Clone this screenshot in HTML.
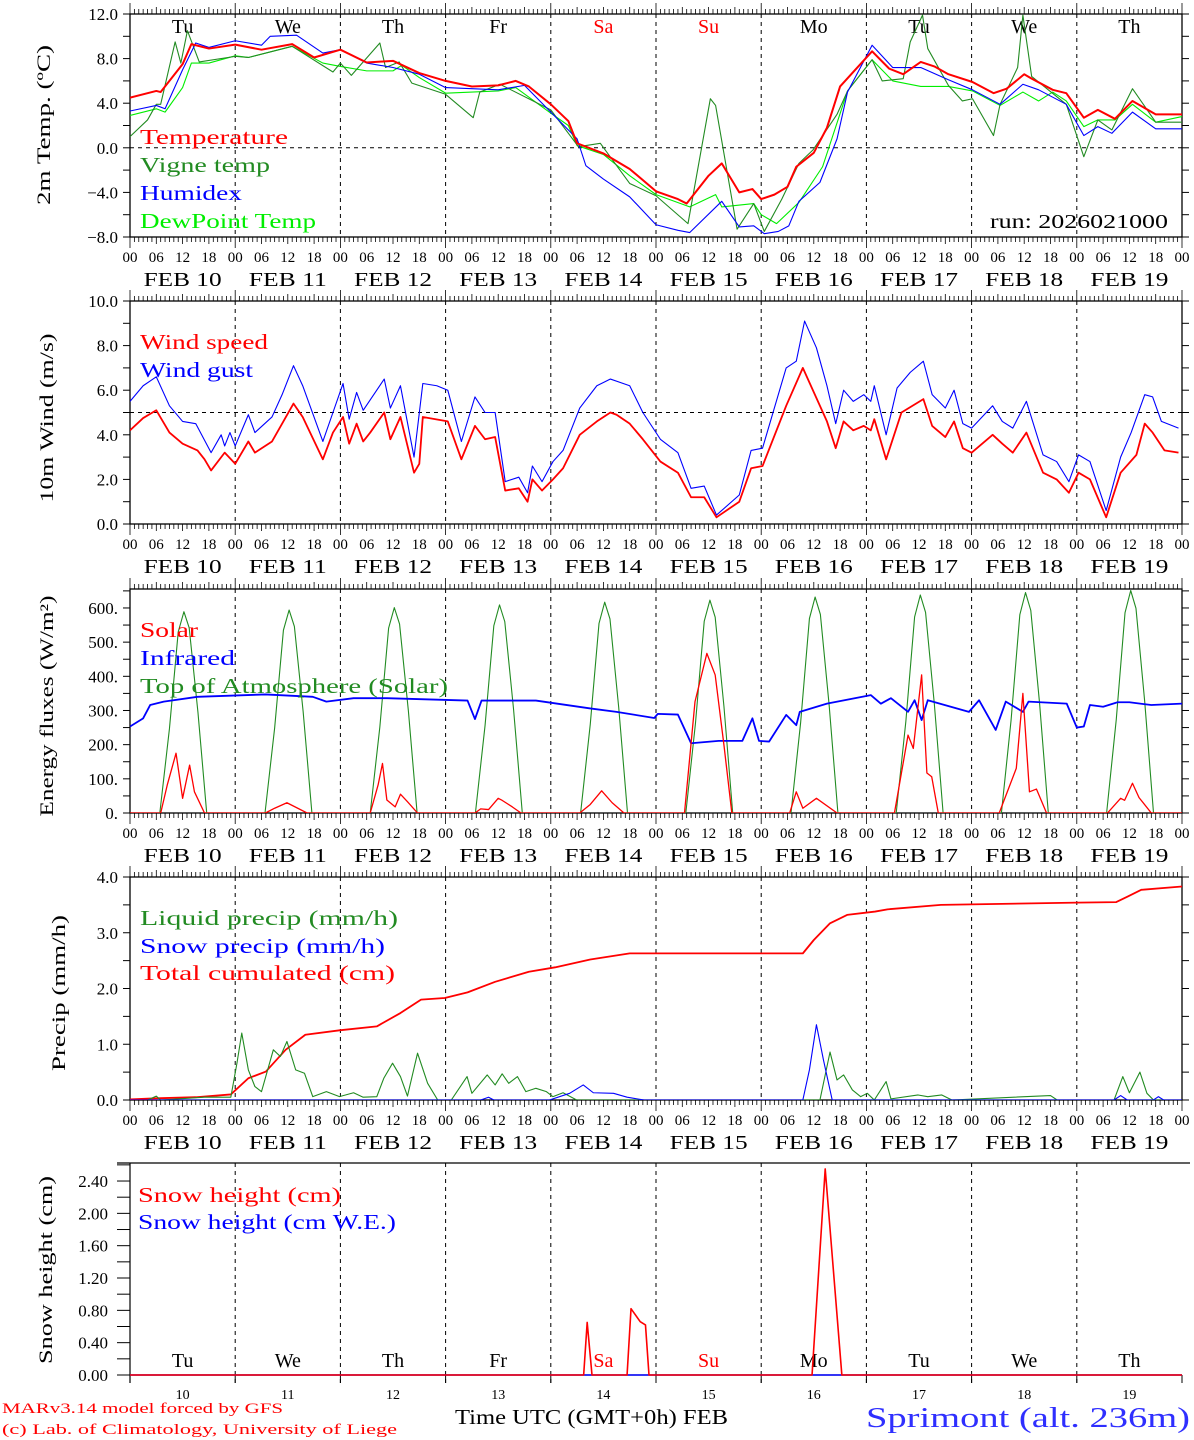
<!DOCTYPE html>
<html><head><meta charset="utf-8"><title>MAR forecast Sprimont</title>
<style>
html,body{margin:0;padding:0;background:#fff;}
svg{display:block;}
text{font-family:"Liberation Serif","DejaVu Serif",serif;}
</style></head>
<body>
<svg id="chart" xmlns="http://www.w3.org/2000/svg" width="1194" height="1440" viewBox="0 0 1194 1440">
<rect x="0" y="0" width="1194" height="1440" fill="#fff"/>
<defs>
<clipPath id="c0"><rect x="130" y="14" width="1052" height="223"/></clipPath>
<clipPath id="c1"><rect x="130" y="301" width="1052" height="223"/></clipPath>
<clipPath id="c2"><rect x="130" y="589" width="1052" height="224"/></clipPath>
<clipPath id="c3"><rect x="130" y="877" width="1052" height="223"/></clipPath>
<clipPath id="c4"><rect x="130" y="1160" width="1052" height="216"/></clipPath>
</defs>
<text x="455" y="1424" font-size="21" textLength="273" lengthAdjust="spacingAndGlyphs">Time UTC (GMT+0h) FEB</text>
<text x="866" y="1427" font-size="28" fill="#2f2fff" textLength="324" lengthAdjust="spacingAndGlyphs">Sprimont (alt. 236m)</text>
<text x="2" y="1413" font-size="15" fill="#ff0000" textLength="281" lengthAdjust="spacingAndGlyphs">MARv3.14 model forced by GFS</text>
<text x="2" y="1434" font-size="15" fill="#ff0000" textLength="395" lengthAdjust="spacingAndGlyphs">(c) Lab. of Climatology, University of Liege</text>
<text x="990" y="228" font-size="20" textLength="178" lengthAdjust="spacingAndGlyphs">run: 2026021000</text>
</svg>
<script>
// ---------- DATA ----------
const dayNames = ["Tu","We","Th","Fr","Sa","Su","Mo","Tu","We","Th"];
const dayNums = ["10","11","12","13","14","15","16","17","18","19"];
const hourLabels = ["00","06","12","18"];

// Panel 1: temperatures (°C)
const tempH = [0,6,7,12,14,18,24,30,37,42,48,54,60,66,72,78,84,88,91,96,100,102,108,114,120,125,127,132,135,139,142,144,147,150,152,156,159,162,169.3,173.2,176.4,180.4,183.5,186.7,192.2,197,200,204,205.7,210.5,213.6,217.6,220.8,224.7,228.7,234,240];
const tempV = [4.5,5.1,5.0,7.5,9.3,8.9,9.25,8.8,9.3,8.1,8.8,7.65,7.8,6.7,6.0,5.5,5.6,6.0,5.5,3.9,2.4,0.4,-0.5,-1.9,-3.9,-4.6,-5.0,-2.5,-1.4,-4.0,-3.7,-4.6,-4.2,-3.5,-1.7,-0.45,1.8,5.5,8.65,7.1,6.6,7.7,7.3,6.6,5.9,4.9,5.3,6.6,6.2,5.2,4.9,2.7,3.4,2.6,4.2,3.0,3.0];
const vigH = [0,4,6,7,10.3,11.6,13.1,15.8,24,27,37,46.3,48,50.5,57,58.3,61.4,64.3,72,78.3,79.8,84.4,96,102.3,107.3,114,120,127.3,132.4,133.6,138.5,142.3,144.7,148.7,152.6,155.8,161.3,163.7,169.3,171.6,176.4,178,180.8,182,186.7,189.9,192.2,197,198.5,202.5,203.7,205.7,213.6,217.6,220.8,224,228.7,234,240];
const vigV = [1.0,2.5,3.9,3.9,9.5,7.6,10.5,7.7,8.2,8.1,9.1,6.8,7.6,6.5,9.4,7.2,7.7,5.8,4.8,2.7,5.0,5.7,3.4,0.1,0.4,-3.2,-4.3,-6.8,4.4,3.8,-7.3,-5.0,-7.5,-4.6,-1.4,-0.2,3.0,5.1,7.9,6.0,6.2,9.5,11.9,8.9,5.6,4.2,4.4,1.1,3.9,7.2,11.9,6.4,3.9,-0.8,2.5,1.6,5.3,2.3,2.3];
const humH = [0,6,8,12,15,18,24,30,32,38,44,48,54,60,66,72,78,84,90,96,102,104,108,114,120,125,127.7,135,139,142.3,144.7,147.9,150.3,152.6,157.4,161.3,163.7,169.3,174,180.4,186.7,192.2,198.5,203.7,207.3,213.6,217.6,220.8,224,228.7,234,240];
const humV = [3.3,3.8,3.5,7.0,9.4,9.0,9.6,9.2,10.0,10.1,8.5,8.8,7.6,7.2,6.6,5.4,5.3,5.2,5.6,3.2,0.8,-1.6,-2.8,-4.4,-6.9,-7.4,-7.6,-4.8,-7.1,-7.0,-7.7,-7.5,-7.0,-4.8,-3.1,0.8,5.0,9.2,7.2,7.2,6.1,5.2,3.9,5.7,5.2,3.9,1.1,1.9,1.3,3.2,1.7,1.7];
const dewH = [0,6,8,12,14,18,24,27,37,44,48,54,60,62,66,72,84,88,96,100,102,108,114,120,127.7,133.6,135,142.3,144,147.5,152.6,158,163.7,169.3,174,180.4,186.7,192.2,198.5,203.7,207.3,210.5,213.6,217.6,220.8,224.7,228.7,234,240];
const dewV = [2.9,3.5,3.2,5.4,7.6,7.6,8.25,8.1,9.1,7.6,7.3,6.9,6.9,7.4,6.3,4.9,5.1,5.4,3.1,2.0,0.2,-0.6,-2.5,-4.2,-5.3,-4.2,-5.3,-5.0,-6.0,-6.8,-4.9,-1.7,5.1,7.9,6.0,5.5,5.5,5.1,3.8,5.0,4.2,5.0,4.2,1.9,2.5,2.5,3.9,2.3,2.8];

// Panel 2: wind (m/s)
const windH = [0,3,6,9,12,15.4,17,18.5,21.6,24,27,28.5,32.4,34.7,37.3,39.4,44,46.3,48.6,50,51.7,53.2,54.8,58,59.4,61.7,64.8,66,66.8,72.5,75.6,78.7,81,83.3,85.6,88.7,90.7,91.8,94,96.5,98.8,102.6,106.5,109.6,111,114,117,121,125,128,131,133.8,139,141.7,144.3,149.7,153.5,159,161,162.8,165,167.4,169,169.8,172.5,176,181,183,186,188,190,192,196.8,199,201.4,204.5,208.3,211.4,214.2,216.4,219,222.7,226,229.6,231.5,233.3,236,239.2];
const windV = [4.2,4.75,5.1,4.1,3.6,3.3,2.9,2.4,3.2,2.7,3.7,3.2,3.7,4.5,5.4,4.8,2.9,4.1,4.8,3.6,4.5,3.7,4.1,5.0,3.8,4.8,2.3,2.7,4.8,4.6,2.9,4.4,3.8,3.9,1.5,1.6,1.0,2.0,1.5,2.0,2.5,4.0,4.6,5.0,4.9,4.5,3.8,2.8,2.3,1.2,1.2,0.3,1.0,2.5,2.6,5.3,7.0,4.6,3.4,4.6,4.2,4.4,4.2,4.7,2.9,5.0,5.6,4.4,3.9,4.6,3.4,3.2,4.0,3.6,3.2,4.1,2.3,2.0,1.4,2.3,2.0,0.3,2.3,3.1,4.5,4.1,3.3,3.2];
const gustH = [0,3,6,9,12,15,18.5,20.8,21.6,22.8,24,27,28.5,32.4,34.7,37.3,39.4,44,46.3,48.6,50,51.7,53.2,58,59.4,61.7,64.8,66.8,70,72.5,75.6,78.7,81,83.3,85.6,88.7,90.7,91.8,94,96.5,98.8,102.6,106.5,109.6,114,117,121,125,128,131,133.8,139,141.7,144.3,149.7,152,153.9,156.6,159,161,162.8,165,167.4,169,169.8,172.5,175,178,181,183,186,188,190,192,196.8,199,201.4,204.5,208.3,211.4,214.2,216.4,219,222.7,226,228.4,231.5,233.3,235.3,239.2];
const gustV = [5.5,6.2,6.6,5.3,4.6,4.5,3.2,4.0,3.5,4.1,3.5,4.9,4.1,4.8,5.8,7.1,6.2,3.7,5.0,6.3,4.7,5.9,5.1,6.5,5.2,6.2,3.0,6.3,6.2,6.0,3.7,5.7,5.0,5.0,1.9,2.1,1.4,2.6,1.9,2.8,3.3,5.2,6.2,6.5,6.2,5.0,3.8,3.2,1.6,1.7,0.4,1.3,3.3,3.4,7.0,7.3,9.1,7.9,6.2,4.5,6.0,5.5,5.8,5.5,6.2,4.0,6.1,6.8,7.3,5.8,5.2,6.0,4.5,4.3,5.3,4.6,4.3,5.5,3.1,2.8,1.9,3.1,2.8,0.6,3.0,4.1,5.8,5.7,4.6,4.3];

// Panel 3: energy fluxes (W/m2)
const solarH = [0,7,8.5,10.5,12,13.6,14.7,17,30.9,33,35.8,40.4,54.8,56.6,57.6,58.6,60.5,61.7,63.3,65.6,78.7,80,81.8,84,84.9,87.2,89.2,102.6,105,107.6,110,112.7,126.5,128.9,131.6,133.5,135.5,137.3,150.5,152,153.5,156.6,161.3,174.4,177.5,178.7,180.6,181.8,182.9,184.4,198.3,202.2,203.7,205.2,206.8,209.1,223,226,226.9,228.7,230.2,233,240];
const solarV = [0,0,82,175,43,140,62,0,0,14,30,0,0,82,145,38,18,55,33,0,0,12,10,43,37,18,0,0,25,65,30,0,0,326,467,404,199,0,0,62,14,43,0,0,228,189,404,117,106,0,0,131,350,62,70,0,0,43,37,87,45,0,0];
const irH = [0,3,4.6,7.7,15.4,30.9,41.7,44.8,51,58.6,77,78.7,80.2,92.6,105,111,119.6,120.4,125,128,134.3,139.7,142,143.5,145.8,149.7,152,152.8,159,169,171.3,173.6,177.5,179,180.6,182,191.4,193.7,197.5,199.8,203.7,205,213.7,216,217.6,219,222,225.3,228,233,240];
const irV = [253,277,316,326,340,347,340,326,336,336,329,275,329,329,306,296,278,290,288,204,211,211,277,211,209,287,257,296,320,345,320,336,296,330,272,330,296,330,243,326,296,326,320,250,253,316,311,324,324,316,320];
const toaH = [0,6.8,9,11,12.3,13.5,15.5,17.5,30.8,33,35,36.3,37.5,39.5,41.5,54.8,57,59,60.3,61.5,63.5,65.5,78.8,81,83,84.3,85.5,87.5,89.5,102.8,105,107,108.3,109.5,111.5,113.5,126.8,129,131,132.3,133.5,135.5,137.5,150.8,153,155,156.3,157.5,159.5,161.5,174.8,177,179,180.3,181.5,183.5,185.5,198.8,201,203,204.3,205.5,207.5,209.5,222.8,225,227,228.3,229.5,231.5,233.5,240];
const toaV = [0,0,247,530,589,542,295,0,0,249,535,594,546,297,0,0,252,541,601,553,300,0,0,256,548,609,560,304,0,0,259,555,617,568,308,0,0,262,561,623,573,312,0,0,265,569,632,581,316,0,0,268,574,638,587,319,0,0,271,580,645,593,322,0,0,273,586,651,599,325,0,0];

// Panel 4: precipitation
const cumH = [0,6,15,23,27,31,35.5,40,47.8,56.3,61.7,66.4,71.8,77,83.3,91,97,105,114,153.5,156,159.7,163.6,170,172.8,185,216,225,227.6,230.7,240];
const cumV = [0.01,0.03,0.05,0.1,0.39,0.51,0.9,1.17,1.25,1.32,1.56,1.8,1.83,1.93,2.12,2.3,2.38,2.52,2.63,2.63,2.87,3.17,3.32,3.38,3.42,3.5,3.54,3.55,3.65,3.77,3.83];
const liqH = [0,4,6,7,17,23,24.4,25.5,27,28.5,30,32.7,34.3,35.8,37.8,39.8,41.7,44.8,47.8,51,53.2,56.3,57.9,59.9,61.7,63.3,65.6,67.9,70.2,73.3,76.9,78,81.5,83.3,84.9,86.4,88.4,90.3,92.6,95,96.5,98.8,101.9,157.4,159.7,161.3,162.8,164.8,166.7,168.2,169.8,172.5,173.6,179.8,182,185.2,187.5,210,211.5,224.5,226.5,228,230.4,232,233.5,240];
const liqV = [0,0,0.07,0,0.05,0.05,0.66,1.2,0.54,0.24,0.15,0.9,0.78,1.05,0.54,0.48,0.06,0.15,0.06,0.13,0.05,0.06,0.39,0.66,0.42,0.07,0.84,0.3,0,0,0.42,0.12,0.45,0.27,0.47,0.3,0.42,0.15,0.21,0.15,0.06,0.13,0,0,0.86,0.36,0.45,0.18,0.06,0.12,0,0.33,0.02,0.09,0.06,0.09,0,0.08,0,0,0.42,0.13,0.5,0.12,0,0];
const snH = [0,80,81.8,83,95.7,100.3,103.4,105.7,110.3,113.4,117.3,153.5,155,156.6,158.2,160.2,224.5,226,227.5,233.5,234.6,235.8,240];
const snV = [0,0,0.05,0,0,0.12,0.27,0.13,0.12,0.05,0,0,0.54,1.35,0.72,0,0,0.08,0,0,0.06,0,0];

// Panel 5: snow height
const shH = [0,103.5,104.3,105.4,113.4,114.3,116.4,117.6,118.4,155.6,158.6,162.4,240];
const shV = [0,0,0.65,0,0,0.82,0.66,0.62,0,0,2.55,0,0];
const sweH = [0,240];
const sweV = [0,0];

// ---------- DRAWING ----------
const NS = 'http://www.w3.org/2000/svg';
const svg = document.getElementById('chart');
const X0 = 130, X1 = 1182, DAYW = (X1 - X0) / 10;
const panels = [
  {top:14, bot:237, ymin:-8, ymax:12, minor:2, major:4, fmt:v=>(v<0?'\u22120':'')+Math.abs(v).toFixed(1).replace(/^0(?=\.)/, v<0?'':'0'), name:'temperature'},
  {top:301, bot:524, ymin:0, ymax:10, minor:1, major:2, fmt:v=>v.toFixed(1), name:'wind'},
  {top:589, bot:813, ymin:0, ymax:655.5, minor:50, major:100, fmt:v=>v===0?'0.':v+'.', name:'energy'},
  {top:877, bot:1100, ymin:0, ymax:4, minor:0.5, major:1, fmt:v=>v.toFixed(1), name:'precip'},
  {top:1163, bot:1375, ymin:0, ymax:2.623, minor:0.2, major:0.4, fmt:v=>v.toFixed(2), name:'snow'}
];
function xh(h){ return X0 + h * DAYW / 24; }
function sy(p, v){ return p.bot - (v - p.ymin) / (p.ymax - p.ymin) * (p.bot - p.top); }

function add(parent, tag, attrs, name, text){
  const el = document.createElementNS(NS, tag);
  for (const k in attrs) el.setAttribute(k, attrs[k]);
  
  
  if (text !== undefined) el.textContent = text;
  parent.appendChild(el);
  return el;
}
function fmtY(i, v){
  if (i === 0) { const s = Math.abs(v).toFixed(1); return v < 0 ? '\u2212' + s : s; }
  return panels[i].fmt(v);
}

panels.forEach((p, i) => {
  const g = add(svg, 'g', {}, p.name + '-panel');
  // day dashed lines
  for (let d = 1; d < 10; d++) {
    add(g, 'line', {x1:xh(d*24), x2:xh(d*24), y1:p.top, y2:p.bot + (i===4?8:0), stroke:'#000', 'stroke-width':1, 'stroke-dasharray':'4,4'}, 'day-gridline');
  }
  if (i === 0) add(g, 'line', {x1:X0, x2:X1, y1:sy(p,0), y2:sy(p,0), stroke:'#000', 'stroke-width':1, 'stroke-dasharray':'4,4'}, 'zero-line');
  if (i === 1) add(g, 'line', {x1:X0, x2:X1, y1:sy(p,5), y2:sy(p,5), stroke:'#000', 'stroke-width':1, 'stroke-dasharray':'4,4'}, 'five-ms-line');
  if (i < 4) {
    add(g, 'rect', {x:X0, y:p.top, width:X1-X0, height:p.bot-p.top, fill:'none', stroke:'#000', 'stroke-width':1.3}, 'plot-frame');
    for (let h = 0; h <= 240; h++) {
      const len = h % 24 === 0 ? 11 : (h % 6 === 0 ? 7 : 5);
      add(g, 'line', {x1:xh(h), x2:xh(h), y1:p.top, y2:p.top-len, stroke:'#000', 'stroke-width':0.8}, 'top-hour-tick');
      add(g, 'line', {x1:xh(h), x2:xh(h), y1:p.bot, y2:p.bot+len, stroke:'#000', 'stroke-width':0.8}, 'bottom-hour-tick');
    }
    for (let d = 0; d <= 10; d++) {
      for (let k = 0; k < 4; k++) {
        if (d === 10 && k > 0) break;
        add(g, 'text', {x:xh(d*24 + k*6), y:p.bot+25, 'font-size':15, 'text-anchor':'middle'}, 'hour-label', hourLabels[k]);
      }
      if (d < 10) add(g, 'text', {x:xh(d*24+12), y:p.bot+49, 'font-size':20, 'text-anchor':'middle', textLength:78, lengthAdjust:'spacingAndGlyphs'}, 'date-label', 'FEB ' + dayNums[d]);
    }
  } else {
    add(g, 'line', {x1:117, x2:1190, y1:p.top, y2:p.top, stroke:'#000', 'stroke-width':1.2}, 'top-border');
    add(g, 'line', {x1:X0, x2:X0, y1:p.top, y2:p.bot+8, stroke:'#000', 'stroke-width':1.2}, 'y-axis-line');
    add(g, 'line', {x1:X0, x2:X1, y1:p.bot, y2:p.bot, stroke:'#555', 'stroke-width':1.2}, 'x-axis-line');
    for (let d = 0; d <= 10; d++) add(g, 'line', {x1:xh(d*24), x2:xh(d*24), y1:p.bot, y2:p.bot+8, stroke:'#000', 'stroke-width':1}, 'day-tick');
    for (let d = 0; d < 10; d++) {
      add(g, 'text', {x:xh(d*24+12), y:p.bot+24, 'font-size':14, 'text-anchor':'middle'}, 'day-number-label', dayNums[d]);
    }
  }
  // y ticks
  const nMinor = Math.round((Math.min(p.ymax, i===2?650:p.ymax) - p.ymin) / p.minor + 1e-6);
  for (let k = 0; k <= nMinor; k++) {
    const v = p.ymin + k * p.minor;
    const y = sy(p, v);
    if (i < 4) {
      add(g, 'line', {x1:X0, x2:X0-7, y1:y, y2:y, stroke:'#000', 'stroke-width':1}, 'y-tick');
      add(g, 'line', {x1:X1, x2:X1+7, y1:y, y2:y, stroke:'#000', 'stroke-width':1}, 'y-tick-right');
    } else {
      add(g, 'line', {x1:X0, x2:117, y1:y, y2:y, stroke:'#000', 'stroke-width':1}, 'y-tick');
    }
    const isMajor = Math.abs(v / p.major - Math.round(v / p.major)) < 1e-6;
    if (isMajor) {
      add(g, 'text', {x:i===4?108:118, y:y+6, 'font-size':17, 'text-anchor':'end'}, 'y-tick-label', fmtY(i, v));
    }
  }
});

// day names
dayNames.forEach((n, d) => {
  const col = (d === 4 || d === 5) ? '#ff0000' : '#000';
  add(svg, 'text', {x:xh(d*24+12), y:33, 'font-size':20, 'text-anchor':'middle', fill:col}, 'weekday-label-top', n);
  add(svg, 'text', {x:xh(d*24+12), y:1367, 'font-size':20, 'text-anchor':'middle', fill:col}, 'weekday-label-bottom', n);
});

function series(pi, hs, vs, color, w, name){
  const p = panels[pi];
  const n = Math.min(hs.length, vs.length);
  let d = '';
  for (let k = 0; k < n; k++) d += (k ? 'L' : 'M') + xh(hs[k]).toFixed(2) + ',' + sy(p, vs[k]).toFixed(2);
  add(svg, 'path', {d:d, fill:'none', stroke:color, 'stroke-width':w, 'stroke-linejoin':'round', 'clip-path':'url(#c'+pi+')'}, name);
}
series(0, dewH, dewV, '#00ee00', 1.1, 'dewpoint-line');
series(0, vigH, vigV, '#228b22', 1.1, 'vigne-temp-line');
series(0, humH, humV, '#0000ff', 1.1, 'humidex-line');
series(0, tempH, tempV, '#ff0000', 2, 'temperature-line');
series(1, gustH, gustV, '#0000ff', 1.1, 'wind-gust-line');
series(1, windH, windV, '#ff0000', 1.8, 'wind-speed-line');
series(2, toaH, toaV, '#228b22', 1.1, 'toa-solar-line');
series(2, irH, irV, '#0000ff', 1.8, 'infrared-line');
series(2, solarH, solarV, '#ff0000', 1.3, 'solar-line');
series(3, cumH, cumV, '#ff0000', 1.8, 'cumulated-precip-line');
series(3, liqH, liqV, '#228b22', 1.1, 'liquid-precip-line');
series(3, snH, snV, '#0000ff', 1.1, 'snow-precip-line');
series(4, sweH, sweV, '#0000ff', 1.5, 'snow-we-line');
series(4, shH, shV, '#ff0000', 1.6, 'snow-height-line');

// legends
const legends = [
  [140,144,148,'#ff0000','Temperature','legend-temperature'],
  [140,172,130,'#228b22','Vigne temp','legend-vigne-temp'],
  [140,200,102,'#0000ff','Humidex','legend-humidex'],
  [140,228,176,'#00ee00','DewPoint Temp','legend-dewpoint'],
  [140,349,128,'#ff0000','Wind speed','legend-wind-speed'],
  [140,377,113,'#0000ff','Wind gust','legend-wind-gust'],
  [140,637,58,'#ff0000','Solar','legend-solar'],
  [140,665,95,'#0000ff','Infrared','legend-infrared'],
  [140,693,308,'#228b22','Top of Atmosphere (Solar)','legend-toa'],
  [140,925,258,'#228b22','Liquid precip (mm/h)','legend-liquid-precip'],
  [140,953,245,'#0000ff','Snow precip (mm/h)','legend-snow-precip'],
  [140,980,255,'#ff0000','Total cumulated (cm)','legend-total-cumulated'],
  [138,1202,203,'#ff0000','Snow height (cm)','legend-snow-height'],
  [138,1229,258,'#0000ff','Snow height (cm W.E.)','legend-snow-we']
];
legends.forEach(l => {
  add(svg, 'text', {x:l[0], y:l[1], 'font-size':21, fill:l[3], textLength:l[2], lengthAdjust:'spacingAndGlyphs'}, l[5], l[4]);
});

// y axis titles
const ytitles = [
  [44,125,160,'2m Temp. (\u00baC)','y-axis-title-temperature'],
  [47,418,169,'10m Wind (m/s)','y-axis-title-wind'],
  [47,706,221,'Energy fluxes (W/m\u00b2)','y-axis-title-energy'],
  [59,993,156,'Precip (mm/h)','y-axis-title-precip'],
  [46,1270,188,'Snow height (cm)','y-axis-title-snow']
];
ytitles.forEach(t => {
  add(svg, 'text', {x:0, y:0, 'font-size':19, 'text-anchor':'middle', transform:'translate('+(t[0]+6)+','+t[1]+') rotate(-90)', textLength:t[2], lengthAdjust:'spacingAndGlyphs'}, t[4], t[3]);
});
</script>
</body></html>
